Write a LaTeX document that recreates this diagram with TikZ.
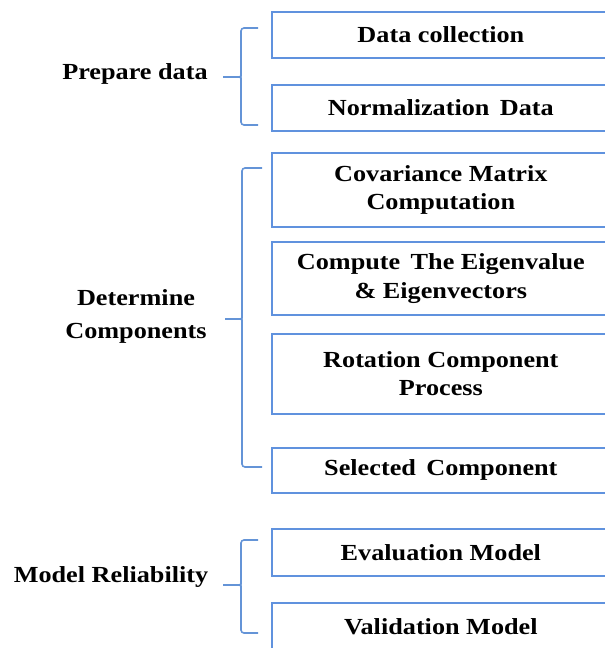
\documentclass[tikz,border=0pt]{standalone}
\usepackage{fontspec}
\setmainfont{Liberation Serif}[FakeStretch=1.14]
\begin{document}
\begin{tikzpicture}[x=1pt,y=-1pt,
  box/.style={draw=boxblue,line width=1.7pt,minimum width=338pt,anchor=north west,
    inner sep=0pt,align=center,font=\fontsize{23}{28.5}\selectfont\bfseries},
  lab/.style={align=center,font=\fontsize{23}{33}\selectfont\bfseries},
  brace/.style={draw=braceblue,line width=1.6pt,rounded corners=3pt}]
\definecolor{boxblue}{RGB}{96,146,222}
\definecolor{braceblue}{RGB}{100,148,215}
\useasboundingbox (0,0) rectangle (605,648);
\clip (0,0) rectangle (605,648);
% boxes
\node[box,minimum height=46pt] (b1) at (271,11) {Data collection};
\node[box,minimum height=46pt] (b2) at (271,84) {Normalization\, Data};
\node[box,minimum height=74pt] (b3) at (271,152) {Covariance Matrix\\Computation};
\node[box,minimum height=73pt] (b4) at (271,241) {Compute\, The Eigenvalue\\\& Eigenvectors};
\node[box,minimum height=80pt] (b5) at (271,333) {Rotation Component\\Process};
\node[box,minimum height=45pt] (b6) at (271,447) {Selected\, Component};
\node[box,minimum height=47pt] (b7) at (271,528) {Evaluation Model};
\node[box,minimum height=47pt] (b8) at (271,602) {Validation Model};
% labels
\node[lab] (l1) at (135,74) {Prepare data};
\node[lab] (l2) at (136,316) {Determine\\Components};
\node[lab] (l3) at (111,577) {Model Reliability};
% brace coordinates
\coordinate (t1) at (258,28); \coordinate (m1) at (223,77); \coordinate (e1) at (258,125);
\coordinate (t2) at (262,168); \coordinate (m2) at (225,319); \coordinate (e2) at (262,467);
\coordinate (t3) at (258,540); \coordinate (m3) at (223,585); \coordinate (e3) at (258,633);
% braces
\draw[brace] (t1) -- (241,28) -- (241,73) .. controls (241,77) .. (m1);
\draw[brace] (m1) .. controls (241,77) .. (241,81) -- (241,125) -- (e1);
\draw[brace] (t2) -- (242,168) -- (242,315) .. controls (242,319) .. (m2);
\draw[brace] (m2) .. controls (242,319) .. (242,323) -- (242,467) -- (e2);
\draw[brace] (t3) -- (241,540) -- (241,581) .. controls (241,585) .. (m3);
\draw[brace] (m3) .. controls (241,585) .. (241,589) -- (241,633) -- (e3);
\end{tikzpicture}
\end{document}
